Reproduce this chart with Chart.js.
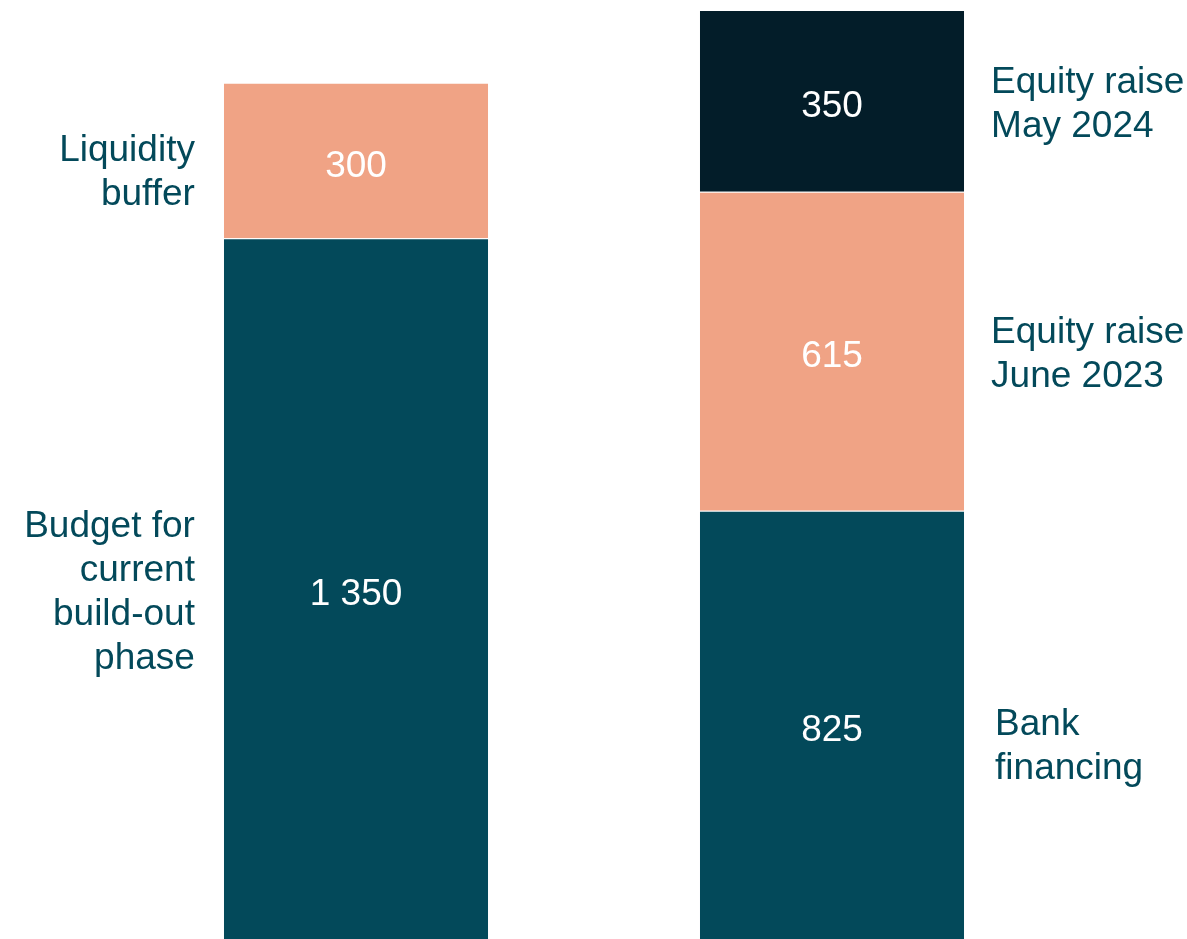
<!DOCTYPE html>
<html>
<head>
<meta charset="utf-8">
<script src="https://cdn.jsdelivr.net/npm/chart.js@4"></script>
<style>
  html, body { margin: 0; padding: 0; background: #fff; }
  #wrap { width: 1187px; height: 939px; position: relative; }
</style>
</head>
<body>
<div id="wrap"><canvas id="chart"></canvas></div>
<script>
var categories = ['Uses', 'Sources'];
var baseValues = [1350, 825];
var middleValues = [300, 615];
var topValues = [null, 350];

var valueLabels = [
    ['1 350', '825'],
    ['300', '615'],
    [null, '350']
];
var sideLabels = [
    [['Budget for', 'current', 'build-out', 'phase'], ['Bank', 'financing']],
    [['Liquidity', 'buffer'], ['Equity raise', 'June 2023']],
    [null, ['Equity raise', 'May 2024']]
];

var teal = '#03495a';
var salmon = '#f0a385';
var navy = '#031d29';
var font = '"Liberation Sans", Arial, sans-serif';

var segmentText = {
    id: 'segmentText',
    afterDatasetsDraw: function (chart) {
        var ctx = chart.ctx;
        ctx.save();
        ctx.font = '37px ' + font;
        ctx.textBaseline = 'middle';
        chart.data.datasets.forEach(function (ds, di) {
            var meta = chart.getDatasetMeta(di);
            meta.data.forEach(function (bar, i) {
                if (ds.data[i] == null) return;
                var yMid = (bar.y + bar.base) / 2;
                // value inside the bar
                ctx.fillStyle = '#ffffff';
                ctx.textAlign = 'center';
                ctx.fillText(valueLabels[di][i], bar.x, yMid + 6);
                // label beside the bar
                var lines = sideLabels[di][i];
                if (!lines) return;
                var lh = 44;
                var start = yMid - (lines.length - 1) * lh / 2 + 4;
                if (di === 0 && i === 1) start += 18;
                if (di === 1 && i === 0) start += 8;
                ctx.fillStyle = teal;
                lines.forEach(function (t, k) {
                    if (i === 0) {
                        ctx.textAlign = 'right';
                        ctx.fillText(t, bar.x - bar.width / 2 - 29, start + k * lh);
                    } else {
                        ctx.textAlign = 'left';
                        ctx.fillText(t, bar.x + bar.width / 2 + (di === 0 ? 31 : 27), start + k * lh);
                    }
                });
            });
        });
        ctx.restore();
    }
};

new Chart(document.getElementById('chart').getContext('2d'), {
    type: 'bar',
    data: {
        labels: categories,
        datasets: [
            { data: baseValues, backgroundColor: teal },
            { data: middleValues, backgroundColor: salmon },
            { data: topValues, backgroundColor: navy }
        ]
    },
    options: {
        responsive: true,
        maintainAspectRatio: false,
        animation: false,
        layout: { padding: { left: 118, right: 117, top: 10, bottom: 0 } },
        datasets: {
            bar: {
                barPercentage: 1,
                categoryPercentage: 0.555,
                borderWidth: { top: 1, left: 0, right: 0, bottom: 0 },
                borderColor: '#ffffff',
                borderSkipped: false
            }
        },
        scales: {
            x: { stacked: true, display: false },
            y: { stacked: true, display: false, min: 0, max: 1790 }
        },
        plugins: {
            legend: { display: false },
            tooltip: { enabled: false }
        }
    },
    plugins: [segmentText]
});
</script>
</body>
</html>
